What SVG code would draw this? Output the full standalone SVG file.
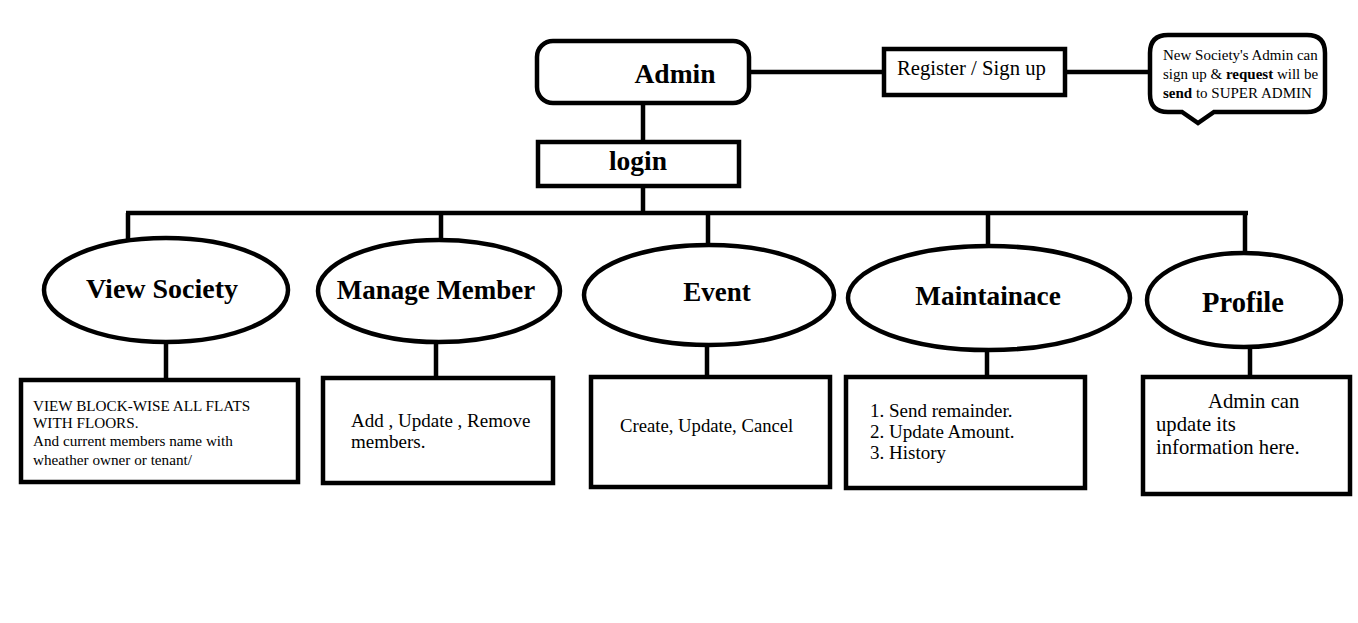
<svg xmlns="http://www.w3.org/2000/svg" width="1358" height="623" viewBox="0 0 1358 623">
<style>
.s{fill:#fff;stroke:#000;stroke-width:4.5}
.c{fill:none;stroke:#000;stroke-width:4.5}
.t{font-family:"Liberation Serif",serif;fill:#000}
.b{font-weight:bold}
</style>
<rect width="1358" height="623" fill="#fff"/>
<g id="connectors">
<path class="c" d="M749 72H883M1065 72H1150M643 103V142M643 186V213M126 213H1248M128 213V240M441 213V240M708 213V246M988 213V246M1245 213V251M166 343V380M436 343V380M707 345V377M987 350V377M1250 347V377"/>
</g>
<g id="admin"><rect class="s" x="537" y="41" width="212" height="62" rx="16"/><text class="t b" x="675" y="83" font-size="27.5" text-anchor="middle">Admin</text></g>
<g id="register"><rect class="s" x="884" y="49" width="181" height="46"/><text class="t" x="897" y="75" font-size="20.7">Register / Sign up</text></g>
<g id="note"><path class="s" d="M1168 35H1307Q1325 35 1325 53V94Q1325 112 1307 112H1214L1198 123L1182 112H1168Q1150 112 1150 94V53Q1150 35 1168 35Z"/>
<text class="t" font-size="15"><tspan x="1163" y="60">New Society's Admin can</tspan><tspan x="1163" y="79">sign up &amp; <tspan class="b">request</tspan> will be</tspan><tspan x="1163" y="98"><tspan class="b">send</tspan> to SUPER ADMIN</tspan></text></g>
<g id="login"><rect class="s" x="538" y="142" width="201" height="44"/><text class="t b" x="638" y="170" font-size="27.5" text-anchor="middle">login</text></g>
<g id="view-society"><ellipse class="s" cx="166" cy="290" rx="122" ry="52"/><text class="t b" x="162" y="298" font-size="28" text-anchor="middle">View Society</text></g>
<g id="manage-member"><ellipse class="s" cx="439" cy="291" rx="121" ry="51"/><text class="t b" x="436" y="299" font-size="27" text-anchor="middle">Manage Member</text></g>
<g id="event"><ellipse class="s" cx="709" cy="295" rx="125" ry="50"/><text class="t b" x="717" y="301" font-size="27" text-anchor="middle">Event</text></g>
<g id="maintainace"><ellipse class="s" cx="989" cy="298" rx="141" ry="52"/><text class="t b" x="988" y="305" font-size="27.3" text-anchor="middle">Maintainace</text></g>
<g id="profile"><ellipse class="s" cx="1244" cy="300" rx="97" ry="47"/><text class="t b" x="1243" y="312" font-size="28.5" text-anchor="middle">Profile</text></g>
<g id="box-view"><rect class="s" x="21" y="380" width="277" height="102"/><text class="t" font-size="15.2"><tspan x="33" y="411">VIEW BLOCK-WISE ALL FLATS</tspan><tspan x="33" y="428">WITH FLOORS.</tspan><tspan x="33" y="446">And current members name with</tspan><tspan x="33" y="465">wheather owner or tenant/</tspan></text></g>
<g id="box-manage"><rect class="s" x="323" y="378" width="230" height="105"/><text class="t" font-size="19"><tspan x="351" y="427">Add , Update , Remove</tspan><tspan x="351" y="448">members.</tspan></text></g>
<g id="box-event"><rect class="s" x="591" y="377" width="239" height="110"/><text class="t" x="620" y="432" font-size="18.7">Create, Update, Cancel</text></g>
<g id="box-maint"><rect class="s" x="846" y="377" width="239" height="111"/><text class="t" font-size="19"><tspan x="870" y="417">1. Send remainder.</tspan><tspan x="870" y="438">2. Update Amount.</tspan><tspan x="870" y="459">3. History</tspan></text></g>
<g id="box-profile"><rect class="s" x="1143" y="377" width="207" height="117"/><text class="t" font-size="20.7"><tspan x="1208" y="408">Admin can</tspan><tspan x="1156" y="431">update its</tspan><tspan x="1156" y="454">information here.</tspan></text></g>
</svg>
